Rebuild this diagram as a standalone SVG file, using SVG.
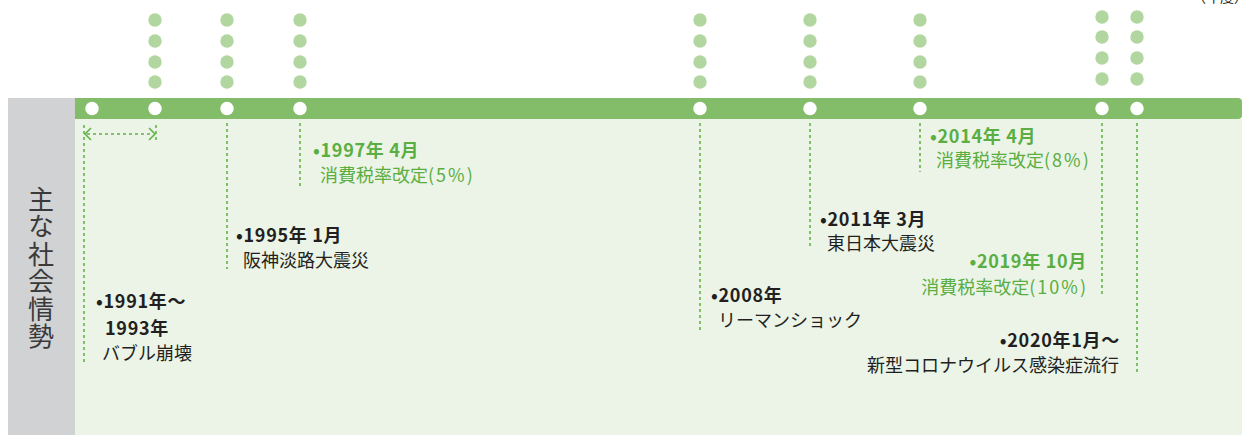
<svg xmlns="http://www.w3.org/2000/svg" width="1242" height="435" viewBox="0 0 1242 435">
<defs>
<style>
.t{font-family:"Noto Sans CJK JP","Noto Sans",sans-serif;font-size:18px;}
.b{font-weight:700;letter-spacing:0.7px;}
.k{fill:#231f20;}
.g{fill:#5aae42;}
.p{letter-spacing:2px;}
.dot{fill:#b2d69f;}
.wc{fill:#ffffff;}
.dl{stroke:#62b348;stroke-width:1.6;stroke-dasharray:3 3;fill:none;}
.ah{stroke:#62b348;stroke-width:1.6;fill:none;}
</style>
</defs>
<rect width="1242" height="435" fill="#ffffff"/>
<text x="1192" y="2" style="font-family:'Noto Sans CJK JP',sans-serif;font-size:14px;fill:#231f20">（年度）</text>
<g id="background">
<rect x="8" y="98" width="67" height="337" fill="#d1d2d4"/>
<rect x="75" y="119" width="1167" height="316" fill="#ebf4e7"/>
<path d="M75 98 H1238 Q1242 98 1242 102 V115 Q1242 119 1238 119 H75 Z" fill="#84bd6a"/>
<text x="41" y="186" writing-mode="vertical-rl" style="font-family:'Noto Sans CJK JP',sans-serif;font-size:26px;letter-spacing:1.5px;fill:#3a3a3a">主な社会情勢</text>
</g>
<g id="connectors">
<line class="dl" x1="84" y1="125" x2="84" y2="362"/>
<line class="dl" x1="156" y1="125" x2="156" y2="143"/>
<line class="dl" x1="87" y1="134" x2="153" y2="134"/>
<polyline class="ah" points="91,128 85,134 91,140"/>
<polyline class="ah" points="149,128 155,134 149,140"/>
<line class="dl" x1="227" y1="123" x2="227" y2="269"/>
<line class="dl" x1="300" y1="123" x2="300" y2="186"/>
<line class="dl" x1="700" y1="123" x2="700" y2="330"/>
<line class="dl" x1="810" y1="123" x2="810" y2="248"/>
<line class="dl" x1="920" y1="123" x2="920" y2="172"/>
<line class="dl" x1="1102" y1="123" x2="1102" y2="296"/>
<line class="dl" x1="1137" y1="123" x2="1137" y2="375"/>
</g>
<g id="dots">
<g class="dot">
<circle cx="155" cy="20" r="6.7"/><circle cx="155" cy="41" r="6.7"/><circle cx="155" cy="62" r="6.7"/><circle cx="155" cy="82" r="6.7"/>
<circle cx="227" cy="20" r="6.7"/><circle cx="227" cy="41" r="6.7"/><circle cx="227" cy="62" r="6.7"/><circle cx="227" cy="82" r="6.7"/>
<circle cx="300" cy="20" r="6.7"/><circle cx="300" cy="41" r="6.7"/><circle cx="300" cy="62" r="6.7"/><circle cx="300" cy="82" r="6.7"/>
<circle cx="700" cy="20" r="6.7"/><circle cx="700" cy="41" r="6.7"/><circle cx="700" cy="62" r="6.7"/><circle cx="700" cy="82" r="6.7"/>
<circle cx="810" cy="20" r="6.7"/><circle cx="810" cy="41" r="6.7"/><circle cx="810" cy="62" r="6.7"/><circle cx="810" cy="82" r="6.7"/>
<circle cx="920" cy="20" r="6.7"/><circle cx="920" cy="41" r="6.7"/><circle cx="920" cy="62" r="6.7"/><circle cx="920" cy="82" r="6.7"/>
<circle cx="1102" cy="17" r="6.7"/><circle cx="1102" cy="37" r="6.7"/><circle cx="1102" cy="58" r="6.7"/><circle cx="1102" cy="79" r="6.7"/>
<circle cx="1137" cy="17" r="6.7"/><circle cx="1137" cy="37" r="6.7"/><circle cx="1137" cy="58" r="6.7"/><circle cx="1137" cy="79" r="6.7"/>
</g>
<g class="wc">
<circle cx="92" cy="108.5" r="6.7"/><circle cx="155" cy="108.5" r="6.7"/><circle cx="227" cy="108.5" r="6.7"/><circle cx="300" cy="108.5" r="6.7"/>
<circle cx="700" cy="108.5" r="6.7"/><circle cx="810" cy="108.5" r="6.7"/><circle cx="920" cy="108.5" r="6.7"/><circle cx="1102" cy="108.5" r="6.7"/><circle cx="1137" cy="108.5" r="6.7"/>
</g>
</g>
<g id="e1991">
<text class="t b k" x="96" y="308">•1991年〜</text>
<text class="t b k" x="105" y="335">1993年</text>
<text class="t k" x="102" y="360">バブル崩壊</text>
</g>
<g id="e1995">
<text class="t b k" x="236" y="242">•1995年 1月</text>
<text class="t k" x="243" y="267">阪神淡路大震災</text>
</g>
<g id="e1997">
<text class="t b g" x="313" y="157">•1997年 4月</text>
<text class="t g" x="320" y="182">消費税率改定<tspan class="p">(5%)</tspan></text>
</g>
<g id="e2008">
<text class="t b k" x="711" y="302">•2008年</text>
<text class="t k" x="718" y="327">リーマンショック</text>
</g>
<g id="e2011">
<text class="t b k" x="820" y="226">•2011年 3月</text>
<text class="t k" x="827" y="250">東日本大震災</text>
</g>
<g id="e2014">
<text class="t b g" x="930" y="143">•2014年 4月</text>
<text class="t g" x="936" y="167">消費税率改定<tspan class="p">(8%)</tspan></text>
</g>
<g id="e2019">
<text class="t b g" x="1087" y="268" text-anchor="end">•2019年 10月</text>
<text class="t g" x="1088" y="294" text-anchor="end">消費税率改定<tspan class="p">(10%)</tspan></text>
</g>
<g id="e2020">
<text class="t b k" x="1120" y="347" text-anchor="end">•2020年1月〜</text>
<text class="t k" x="1119" y="372" text-anchor="end">新型コロナウイルス感染症流行</text>
</g>
</svg>
